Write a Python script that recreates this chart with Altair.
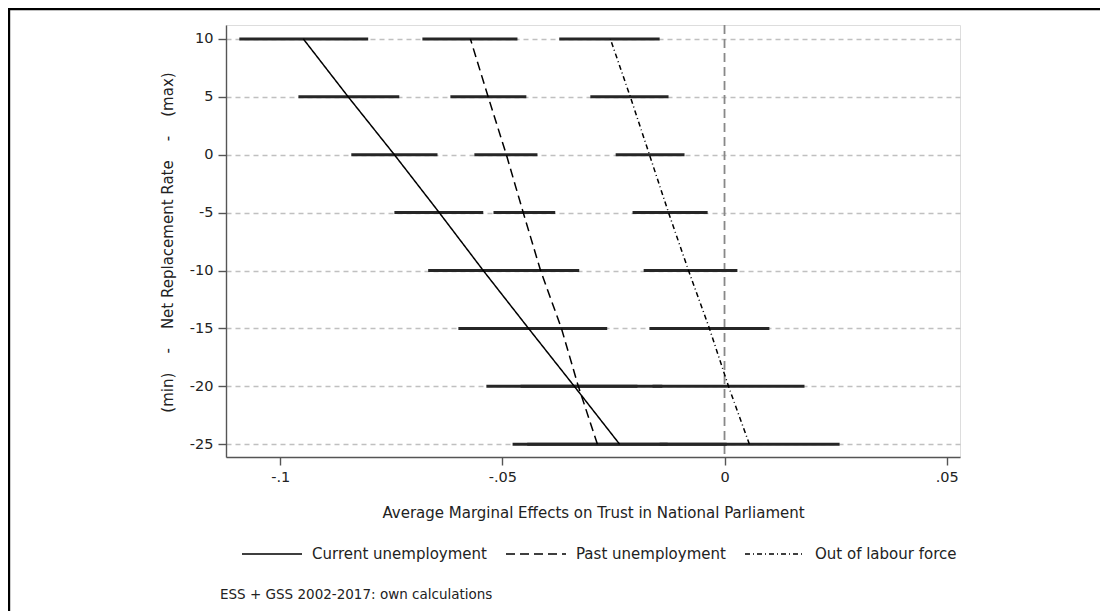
import altair as alt
import pandas as pd

# ---- data ----
levels = [10, 5, 0, -5, -10, -15, -20, -25]

series_names = ["Current unemployment", "Past unemployment", "Out of labour force"]

cur_est = [-0.0948, -0.0847, -0.0743, -0.0642, -0.0543, -0.0441, -0.0338, -0.0236]
cur_lo = [-0.1092, -0.0959, -0.0840, -0.0743, -0.0667, -0.0599, -0.0536, -0.0477]
cur_hi = [-0.0802, -0.0732, -0.0646, -0.0543, -0.0419, -0.0284, -0.0140, 0.0005]

past_est = [-0.0572, -0.0532, -0.0491, -0.0453, -0.0414, -0.0367, -0.0329, -0.0286]
past_lo = [-0.0680, -0.0617, -0.0563, -0.0520, -0.0502, -0.0471, -0.0459, -0.0444]
past_hi = [-0.0466, -0.0446, -0.0421, -0.0381, -0.0327, -0.0264, -0.0196, -0.0128]

out_est = [-0.0257, -0.0212, -0.0169, -0.0126, -0.0081, -0.0034, 0.0009, 0.0056]
out_lo = [-0.0372, -0.0302, -0.0245, -0.0207, -0.0182, -0.0169, -0.0162, -0.0146]
out_hi = [-0.0146, -0.0126, -0.0090, -0.0038, 0.0029, 0.0101, 0.0180, 0.0259]

x_ticks = [-0.1, -0.05, 0, 0.05]
x_tick_labels = ["-.1", "-.05", "0", ".05"]
y_ticks = [10, 5, 0, -5, -10, -15, -20, -25]

x_title = "Average Marginal Effects on Trust in National Parliament"
sp = "\u00a0" * 4
y_title = f"(min){sp}-{sp}Net Replacement Rate{sp}-{sp}(max)"
note = "ESS + GSS 2002-2017: own calculations"

# ---- tables ----
rows = []
for name, est, lo, hi in zip(series_names,
                             [cur_est, past_est, out_est],
                             [cur_lo, past_lo, out_lo],
                             [cur_hi, past_hi, out_hi]):
    for lv, e, l, h in zip(levels, est, lo, hi):
        rows.append({"series": name, "level": lv, "est": e, "lo": l, "hi": h})
df = pd.DataFrame(rows)

FONT = "DejaVu Sans"
TXT = "#222222"
W, H = 734, 432
x_dom = [-0.1122, 0.053]
y_dom = [-26.1, 11.2]

label_expr = " : ".join(
    f"datum.value == {v} ? '{t}'" for v, t in zip(x_ticks, x_tick_labels)
) + " : ''"

xscale = alt.Scale(domain=x_dom, nice=False, zero=False)
yscale = alt.Scale(domain=y_dom, nice=False, zero=False)

x_axis = alt.Axis(values=x_ticks, labelExpr=label_expr, title=x_title,
                  grid=False, tickSize=8, labelPadding=5, labelFontSize=14.5,
                  titleFontSize=15, titleFontWeight="normal", titleY=60,
                  titleBaseline="alphabetic", domainColor="#555555",
                  tickColor="#555555", domainWidth=1.4, tickWidth=1.4,
                  labelColor=TXT, titleColor=TXT, labelFont=FONT,
                  titleFont=FONT)
y_axis = alt.Axis(values=y_ticks, labelExpr="datum.value + ''",
                  title=y_title, grid=True,
                  gridDash=[5, 4], gridColor="#c0c0c0", gridWidth=1.3,
                  tickSize=8, labelPadding=5, labelFontSize=14.5,
                  titleFontSize=15, titleFontWeight="normal",
                  titleX=-59, titleY=217, titleAlign="center",
                  titleBaseline="middle", titleAngle=270,
                  domainColor="#555555", tickColor="#555555",
                  domainWidth=1.4, tickWidth=1.4, labelColor=TXT,
                  titleColor=TXT, labelFont=FONT, titleFont=FONT)

base = alt.Chart(df)

ci = base.mark_rule(strokeWidth=3, color="#262626").encode(
    x=alt.X("lo:Q", scale=xscale, axis=x_axis),
    x2="hi:Q",
    y=alt.Y("level:Q", scale=yscale, axis=y_axis),
)

zero = alt.Chart(pd.DataFrame({"z": [0]})).mark_rule(
    color="#888888", strokeWidth=1.8, strokeDash=[9, 5]
).encode(x=alt.X("z:Q", scale=xscale))

lines = base.mark_line(color="black", strokeWidth=1.5).encode(
    x=alt.X("est:Q", scale=xscale),
    y=alt.Y("level:Q", scale=yscale),
    order=alt.Order("level:Q"),
    strokeDash=alt.StrokeDash(
        "series:N",
        scale=alt.Scale(domain=series_names,
                        range=[[1, 0], [9, 5], [5, 3, 1, 3]]),
        legend=alt.Legend(orient="none", legendX=15, legendY=498,
                          direction="horizontal", title=None,
                          symbolType="stroke", symbolSize=3600,
                          symbolStrokeWidth=1.6, symbolStrokeColor="black",
                          labelFontSize=15, labelFont=FONT,
                          labelColor=TXT, labelOffset=9, labelLimit=400,
                          columnPadding=15),
    ),
)

frame = alt.Chart(pd.DataFrame({"a": [0]})).mark_rect(
    fill=None, stroke="black", strokeWidth=2.4
).encode(x=alt.value(-217), x2=alt.value(883), y=alt.value(-16),
         y2=alt.value(620))

note_txt = alt.Chart(pd.DataFrame({"t": [note]})).mark_text(
    align="left", baseline="middle", fontSize=13.5, font=FONT, color=TXT
).encode(text="t:N", x=alt.value(-6), y=alt.value(570))

chart = alt.layer(frame, zero, ci, lines, note_txt).properties(
    width=W, height=H,
    autosize=alt.AutoSizeParams(type="none"),
    padding={"left": 218, "top": 17, "right": 140, "bottom": 170},
).configure_view(stroke=None).configure(background="white")

chart.save("out.html", embed_options={"renderer": "svg", "actions": False})
